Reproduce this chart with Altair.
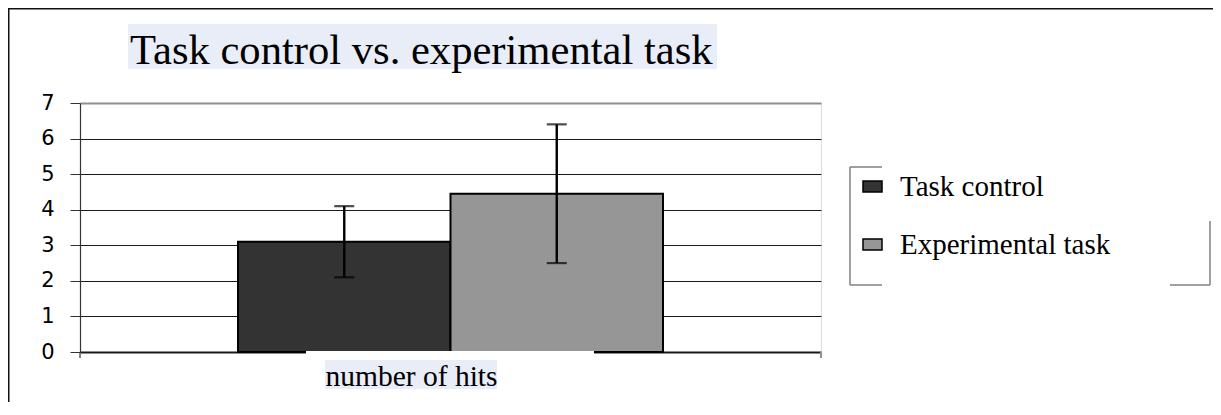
import altair as alt
import pandas as pd

TITLE = "Task control vs. experimental task"
CATEGORY = "number of hits"
SERIES = ["Task control", "Experimental task"]
MEANS = [3.1, 4.45]
ERRORS = [1.0, 1.95]
COLORS = ["#333333", "#969696"]
Y_TICKS = [0, 1, 2, 3, 4, 5, 6, 7]

df = pd.DataFrame({"cat": [CATEGORY] * len(SERIES), "series": SERIES,
                   "value": MEANS, "err": ERRORS})
df["low"] = df["value"] - df["err"]
df["high"] = df["value"] + df["err"]
cat_df = pd.DataFrame({"cat": [CATEGORY]})

W, H = 741, 249
SERIF = "Liberation Serif"
LAV = "#E9EDF8"

x_scale = alt.Scale(domain=[CATEGORY], paddingInner=0, paddingOuter=0.3718)
x_enc = alt.X("cat:N", title=None, scale=x_scale, axis=None)
xo_enc = alt.XOffset("series:N", sort=SERIES,
                     scale=alt.Scale(paddingInner=0, paddingOuter=0))
y_scale = alt.Scale(domain=[0, 7], nice=False)
y_axis = alt.Axis(values=Y_TICKS, tickCount=8, labelOverlap=False,
                  labelFont="DejaVu Sans", labelFontSize=21,
                  labelColor="black", tickSize=10, tickColor="#333333",
                  domainColor="#333333", domainWidth=1.2, labelPadding=16,
                  gridColor={"condition": {"test": "datum.value === 7", "value": "#909090"},
                             "value": "#1a1a1a"},
                  gridWidth={"condition": {"test": "datum.value === 0 || datum.value === 7", "value": 2},
                             "value": 1})

color_enc = alt.Color("series:N", sort=SERIES,
                      scale=alt.Scale(domain=SERIES, range=COLORS),
                      legend=alt.Legend(title=None, orient="none", legendX=778, legendY=69,
                                        symbolType="M-1,-0.58L1,-0.58L1,0.58L-1,0.58Z",
                                        symbolSize=361, symbolStrokeColor="black",
                                        symbolStrokeWidth=1.5, labelFont=SERIF,
                                        labelFontSize=29, labelColor="black",
                                        labelLimit=400,
                                        rowPadding=28, labelOffset=13, padding=0))

base = alt.Chart(df)
bars = base.mark_bar(stroke="black", strokeWidth=2).encode(
    x=x_enc, xOffset=xo_enc,
    y=alt.Y("value:Q", title=None, scale=y_scale, axis=y_axis),
    color=color_enc)
err_rule = base.mark_rule(color="black", strokeWidth=2.4).encode(
    x=x_enc, xOffset=xo_enc,
    y=alt.Y("low:Q", title=None, scale=y_scale, axis=y_axis), y2="high:Q")
cap_low = base.mark_tick(color="black", thickness=2.2, size=20).encode(
    x=x_enc, xOffset=xo_enc, y=alt.Y("low:Q", title=None, scale=y_scale, axis=y_axis))
cap_high = base.mark_tick(color="black", thickness=2.2, size=20).encode(
    x=x_enc, xOffset=xo_enc, y=alt.Y("high:Q", title=None, scale=y_scale, axis=y_axis))

cat_label = alt.Chart(cat_df).mark_text(
    font=SERIF, fontSize=29.5, color="black", align="center", baseline="alphabetic", dx=-39
).encode(x=x_enc, y=alt.value(283), text="cat:N")

one = alt.Data(values=[{"k": 1}])


def rule(x1, x2, y1, y2, color, w):
    return alt.Chart(one).mark_rule(color=color, strokeWidth=w).encode(
        x=alt.value(x1), x2=alt.value(x2), y=alt.value(y1), y2=alt.value(y2))


def box(x1, x2, y1, y2, color):
    return alt.Chart(one).mark_rect(color=color).encode(
        x=alt.value(x1), x2=alt.value(x2), y=alt.value(y1), y2=alt.value(y2))


title_bg = box(48, 637, -79, -34, LAV)
xlab_bg = box(245, 417, 257, 286, LAV)
cover = box(226, 514, 248, 257, "white")
title_txt = alt.Chart(alt.Data(values=[{"t": TITLE}])).mark_text(
    font=SERIF, fontSize=42.6, align="left", baseline="alphabetic", color="black"
).encode(x=alt.value(50), y=alt.value(-39), text="t:N")

frame = [rule(-72, 1133, -94.25, -94.25, "#111111", 1.5),
         rule(-71.25, -71.25, -95, 299, "#111111", 1.5)]
legend_box = [rule(770, 770, 64, 182, "#808080", 1.5),
              rule(770, 802, 64, 64, "#808080", 1.5),
              rule(770, 802, 182, 182, "#808080", 1.5),
              rule(1090, 1130, 182, 182, "#808080", 1.5),
              rule(1130, 1130, 118, 182, "#808080", 1.5)]
ext = [rule(0, 0, 249, 255, "#333333", 1.2),
       rule(W, W, 249, 255, "#909090", 2)]

chart = alt.layer(title_bg, xlab_bg, bars, cover, err_rule, cap_low, cap_high,
                  cat_label, title_txt, *frame, *legend_box, *ext).properties(
    width=W, height=H,
    padding={"left": 72, "top": 95, "right": 392, "bottom": 50},
    autosize=alt.AutoSizeParams(type="none"),
).configure_view(stroke="#909090", strokeWidth=2).configure(background="white")

chart.save("out.html", embed_options={"renderer": "svg", "actions": False})
